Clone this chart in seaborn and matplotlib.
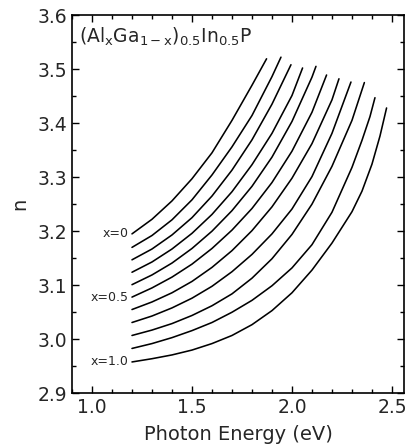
import matplotlib
matplotlib.use("Agg")
import matplotlib.pyplot as plt
from matplotlib.ticker import MultipleLocator, FormatStrFormatter
import seaborn as sns
import pandas as pd

# Refractive index n versus photon energy for (AlxGa1-x)0.5In0.5P, x = 0 ... 1.0
compositions = [0.0, 0.1, 0.2, 0.3, 0.4, 0.5, 0.6, 0.7, 0.8, 0.9, 1.0]

energy_x00 = [1.2, 1.3, 1.4, 1.5, 1.6, 1.7, 1.8, 1.873]
n_x00 = [3.195, 3.222, 3.256, 3.297, 3.345, 3.405, 3.470, 3.519]

energy_x01 = [1.2, 1.3, 1.4, 1.5, 1.6, 1.7, 1.8, 1.9, 1.945]
n_x01 = [3.170, 3.192, 3.221, 3.258, 3.304, 3.356, 3.414, 3.486, 3.522]

energy_x02 = [1.2, 1.3, 1.4, 1.5, 1.6, 1.7, 1.8, 1.9, 1.995]
n_x02 = [3.147, 3.167, 3.193, 3.225, 3.265, 3.313, 3.369, 3.435, 3.508]

energy_x03 = [1.2, 1.3, 1.4, 1.5, 1.6, 1.7, 1.8, 1.9, 2.0, 2.053]
n_x03 = [3.124, 3.143, 3.167, 3.196, 3.231, 3.273, 3.323, 3.381, 3.451, 3.502]

energy_x04 = [1.2, 1.3, 1.4, 1.5, 1.6, 1.7, 1.8, 1.9, 2.0, 2.1, 2.12]
n_x04 = [3.101, 3.119, 3.141, 3.168, 3.200, 3.238, 3.283, 3.337, 3.403, 3.485, 3.505]

energy_x05 = [1.2, 1.3, 1.4, 1.5, 1.6, 1.7, 1.8, 1.9, 2.0, 2.1, 2.173]
n_x05 = [3.078, 3.095, 3.115, 3.139, 3.168, 3.202, 3.242, 3.290, 3.348, 3.420, 3.489]

energy_x06 = [1.2, 1.3, 1.4, 1.5, 1.6, 1.7, 1.8, 1.9, 2.0, 2.1, 2.2, 2.235]
n_x06 = [3.055, 3.069, 3.086, 3.107, 3.133, 3.164, 3.201, 3.245, 3.298, 3.362, 3.443, 3.482]

energy_x07 = [1.2, 1.3, 1.4, 1.5, 1.6, 1.7, 1.8, 1.9, 2.0, 2.1, 2.2, 2.295]
n_x07 = [3.031, 3.043, 3.058, 3.076, 3.098, 3.125, 3.157, 3.195, 3.241, 3.301, 3.381, 3.476]

energy_x08 = [1.2, 1.3, 1.4, 1.5, 1.6, 1.7, 1.8, 1.9, 2.0, 2.1, 2.2, 2.3, 2.362]
n_x08 = [3.007, 3.017, 3.029, 3.044, 3.062, 3.084, 3.113, 3.149, 3.194, 3.250, 3.320, 3.405, 3.475]

energy_x09 = [1.2, 1.3, 1.4, 1.5, 1.6, 1.7, 1.8, 1.9, 2.0, 2.1, 2.2, 2.3, 2.35, 2.39, 2.415]
n_x09 = [2.983, 2.992, 3.003, 3.016, 3.031, 3.050, 3.072, 3.099, 3.132, 3.175, 3.235,
         3.318, 3.368, 3.412, 3.447]

energy_x10 = [1.2, 1.3, 1.4, 1.5, 1.6, 1.7, 1.8, 1.9, 2.0, 2.1, 2.2, 2.3, 2.35, 2.4, 2.44, 2.473]
n_x10 = [2.958, 2.964, 2.971, 2.980, 2.992, 3.007, 3.027, 3.053, 3.086, 3.128, 3.178,
         3.236, 3.274, 3.324, 3.376, 3.428]

energies = [energy_x00, energy_x01, energy_x02, energy_x03, energy_x04, energy_x05,
            energy_x06, energy_x07, energy_x08, energy_x09, energy_x10]
indices = [n_x00, n_x01, n_x02, n_x03, n_x04, n_x05,
           n_x06, n_x07, n_x08, n_x09, n_x10]

curve_labels = {0.0: "x=0", 0.5: "x=0.5", 1.0: "x=1.0"}

rows = []
for comp, e_vals, n_vals in zip(compositions, energies, indices):
    for e, n in zip(e_vals, n_vals):
        rows.append({"x": comp, "energy": e, "n": n})
df = pd.DataFrame(rows)

sns.set_style("ticks")
plt.rcParams["font.family"] = ["DejaVu Sans"]

fig = plt.figure(figsize=(4.06, 4.48), dpi=100)
ax = fig.add_axes([0.1773, 0.1221, 0.8177, 0.8444])

sns.lineplot(data=df, x="energy", y="n", hue="x", units="x", estimator=None,
             palette=["black"] * len(compositions), legend=False, lw=1.15,
             sort=True, ax=ax)

for comp, e_vals, n_vals in zip(compositions, energies, indices):
    if comp in curve_labels:
        ax.text(e_vals[0] - 0.015, n_vals[0], curve_labels[comp], ha="right",
                va="center", fontsize=9)

ax.text(0.935, 3.548,
        r"(Al$_\mathregular{x}$Ga$_\mathregular{1-x}$)$_\mathregular{0.5}$In$_\mathregular{0.5}$P",
        ha="left", va="baseline", fontsize=13.5)

ax.set_xlim(0.9, 2.56)
ax.set_ylim(2.9, 3.6)
ax.xaxis.set_major_locator(MultipleLocator(0.5))
ax.xaxis.set_minor_locator(MultipleLocator(0.1))
ax.yaxis.set_major_locator(MultipleLocator(0.1))
ax.yaxis.set_minor_locator(MultipleLocator(0.05))
ax.xaxis.set_major_formatter(FormatStrFormatter("%.1f"))
ax.yaxis.set_major_formatter(FormatStrFormatter("%.1f"))
ax.tick_params(which="both", direction="in", top=True, right=True,
               labelsize=13.5, width=1.0, color="black")
ax.tick_params(which="major", length=5)
ax.tick_params(which="minor", length=2.8)
for side in ax.spines.values():
    side.set_linewidth(1.2)
    side.set_color("black")

ax.set_xlabel("Photon Energy (eV)", fontsize=14, labelpad=6)
ax.set_ylabel("n", fontsize=14, labelpad=6)

fig.savefig("out.png", dpi=100)
